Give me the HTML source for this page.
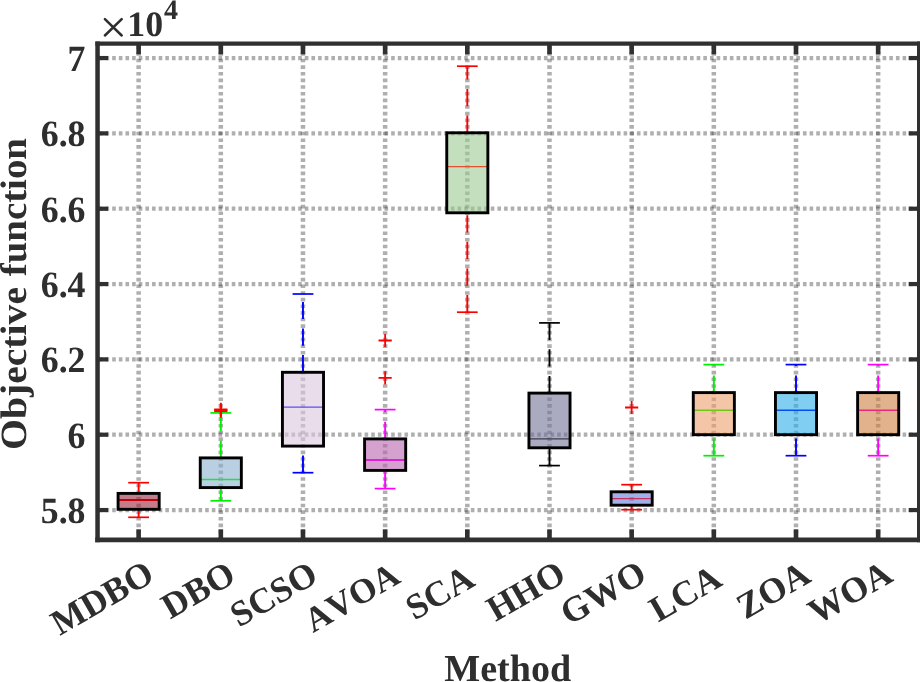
<!DOCTYPE html>
<html><head><meta charset="utf-8"><title>Boxplot</title>
<style>
html,body{margin:0;padding:0;background:#fff;}
body{width:920px;height:682px;overflow:hidden;}
svg{display:block;}
text{font-family:"Liberation Serif",serif;font-weight:bold;fill:#2e2e2e;text-rendering:geometricPrecision;font-kerning:none;}
svg{will-change:transform;}
</style></head><body>
<svg width="920" height="682" viewBox="0 0 920 682">
<rect x="0" y="0" width="920" height="682" fill="#ffffff"/>
<g stroke="#262626" stroke-opacity="0.37" stroke-width="4.2" stroke-dasharray="3.6 3.042" fill="none">
<line x1="138.63" y1="45.40" x2="138.63" y2="539.90" stroke-width="4.5"/>
<line x1="220.81" y1="45.40" x2="220.81" y2="539.90" stroke-width="4.5"/>
<line x1="302.98" y1="45.40" x2="302.98" y2="539.90" stroke-width="4.5"/>
<line x1="385.14" y1="45.40" x2="385.14" y2="539.90" stroke-width="4.5"/>
<line x1="467.31" y1="45.40" x2="467.31" y2="539.90" stroke-width="4.5"/>
<line x1="549.49" y1="45.40" x2="549.49" y2="539.90" stroke-width="4.5"/>
<line x1="631.65" y1="45.40" x2="631.65" y2="539.90" stroke-width="4.5"/>
<line x1="713.83" y1="45.40" x2="713.83" y2="539.90" stroke-width="4.5"/>
<line x1="796.00" y1="45.40" x2="796.00" y2="539.90" stroke-width="4.5"/>
<line x1="878.16" y1="45.40" x2="878.16" y2="539.90" stroke-width="4.5"/>
<line x1="98.90" y1="58.05" x2="919.25" y2="58.05"/>
<line x1="98.90" y1="133.38" x2="919.25" y2="133.38"/>
<line x1="98.90" y1="208.72" x2="919.25" y2="208.72"/>
<line x1="98.90" y1="284.05" x2="919.25" y2="284.05"/>
<line x1="98.90" y1="359.38" x2="919.25" y2="359.38"/>
<line x1="98.90" y1="434.71" x2="919.25" y2="434.71"/>
<line x1="98.90" y1="510.05" x2="919.25" y2="510.05"/>
</g>
<g>
<line x1="138.63" y1="493.40" x2="138.63" y2="482.70" stroke="#ff0000" stroke-width="1.9" stroke-dasharray="17.2 9.4"/>
<line x1="138.63" y1="517.30" x2="138.63" y2="509.30" stroke="#ff0000" stroke-width="1.9" stroke-dasharray="17.2 9.4"/>
<line x1="128.23" y1="482.70" x2="149.03" y2="482.70" stroke="#ff0000" stroke-width="1.7"/>
<line x1="128.23" y1="517.30" x2="149.03" y2="517.30" stroke="#ff0000" stroke-width="1.7"/>
<rect x="118.08" y="493.40" width="41.10" height="15.90" fill="#9b263c" fill-opacity="0.6" stroke="none"/>
<line x1="118.08" y1="500.00" x2="159.19" y2="500.00" stroke="#c4000c" stroke-width="2.2"/>
<rect x="118.08" y="493.40" width="41.10" height="15.90" fill="none" stroke="#000" stroke-width="2.9"/>
</g>
<g>
<line x1="220.81" y1="457.90" x2="220.81" y2="412.90" stroke="#00ee00" stroke-width="1.9" stroke-dasharray="17.2 9.4"/>
<line x1="220.81" y1="500.80" x2="220.81" y2="487.60" stroke="#00ee00" stroke-width="1.9" stroke-dasharray="17.2 9.4"/>
<line x1="210.41" y1="412.90" x2="231.21" y2="412.90" stroke="#00ee00" stroke-width="1.7"/>
<line x1="210.41" y1="500.80" x2="231.21" y2="500.80" stroke="#00ee00" stroke-width="1.7"/>
<rect x="200.25" y="457.90" width="41.10" height="29.70" fill="#8ab1cf" fill-opacity="0.6" stroke="none"/>
<line x1="200.25" y1="479.40" x2="241.36" y2="479.40" stroke="#22e044" stroke-width="1.5"/>
<rect x="200.25" y="457.90" width="41.10" height="29.70" fill="none" stroke="#000" stroke-width="2.9"/>
<path d="M214.21 409.30H227.41M220.81 402.70V415.90" stroke="#ff0000" stroke-width="1.8" fill="none"/>
<path d="M214.21 410.20H227.41M220.81 403.60V416.80" stroke="#ff0000" stroke-width="1.8" fill="none"/>
<path d="M214.21 411.10H227.41M220.81 404.50V417.70" stroke="#ff0000" stroke-width="1.8" fill="none"/>
</g>
<g>
<line x1="302.98" y1="372.30" x2="302.98" y2="294.00" stroke="#0000ff" stroke-width="1.9" stroke-dasharray="17.2 9.4"/>
<line x1="302.98" y1="472.70" x2="302.98" y2="446.10" stroke="#0000ff" stroke-width="1.9" stroke-dasharray="17.2 9.4"/>
<line x1="292.58" y1="294.00" x2="313.38" y2="294.00" stroke="#0000ff" stroke-width="1.7"/>
<line x1="292.58" y1="472.70" x2="313.38" y2="472.70" stroke="#0000ff" stroke-width="1.7"/>
<rect x="282.43" y="372.30" width="41.10" height="73.80" fill="#dac6de" fill-opacity="0.6" stroke="none"/>
<line x1="282.43" y1="407.20" x2="323.53" y2="407.20" stroke="#5a50f0" stroke-width="1.2"/>
<rect x="282.43" y="372.30" width="41.10" height="73.80" fill="none" stroke="#000" stroke-width="2.9"/>
</g>
<g>
<line x1="385.14" y1="438.90" x2="385.14" y2="409.60" stroke="#ff00ff" stroke-width="1.9" stroke-dasharray="17.2 9.4"/>
<line x1="385.14" y1="488.60" x2="385.14" y2="470.40" stroke="#ff00ff" stroke-width="1.9" stroke-dasharray="17.2 9.4"/>
<line x1="374.75" y1="409.60" x2="395.54" y2="409.60" stroke="#ff00ff" stroke-width="1.7"/>
<line x1="374.75" y1="488.60" x2="395.54" y2="488.60" stroke="#ff00ff" stroke-width="1.7"/>
<rect x="364.59" y="438.90" width="41.10" height="31.50" fill="#b964b1" fill-opacity="0.6" stroke="none"/>
<line x1="364.59" y1="460.00" x2="405.69" y2="460.00" stroke="#e21ed6" stroke-width="2.0"/>
<rect x="364.59" y="438.90" width="41.10" height="31.50" fill="none" stroke="#000" stroke-width="2.9"/>
<path d="M378.54 340.50H391.75M385.14 333.90V347.10" stroke="#ff0000" stroke-width="1.8" fill="none"/>
<path d="M378.54 377.90H391.75M385.14 371.30V384.50" stroke="#ff0000" stroke-width="1.8" fill="none"/>
</g>
<g>
<line x1="467.31" y1="132.80" x2="467.31" y2="66.20" stroke="#ff0000" stroke-width="1.9" stroke-dasharray="17.2 9.4"/>
<line x1="467.31" y1="312.20" x2="467.31" y2="212.80" stroke="#ff0000" stroke-width="1.9" stroke-dasharray="17.2 9.4"/>
<line x1="456.92" y1="66.20" x2="477.71" y2="66.20" stroke="#ff0000" stroke-width="1.7"/>
<line x1="456.92" y1="312.20" x2="477.71" y2="312.20" stroke="#ff0000" stroke-width="1.7"/>
<rect x="446.76" y="132.80" width="41.10" height="80.00" fill="#9dca93" fill-opacity="0.6" stroke="none"/>
<line x1="446.76" y1="166.70" x2="487.87" y2="166.70" stroke="#e2502e" stroke-width="1.2"/>
<rect x="446.76" y="132.80" width="41.10" height="80.00" fill="none" stroke="#000" stroke-width="2.9"/>
</g>
<g>
<line x1="549.49" y1="393.10" x2="549.49" y2="322.90" stroke="#000000" stroke-width="1.9" stroke-dasharray="17.2 9.4"/>
<line x1="549.49" y1="465.60" x2="549.49" y2="447.80" stroke="#000000" stroke-width="1.9" stroke-dasharray="17.2 9.4"/>
<line x1="539.09" y1="322.90" x2="559.88" y2="322.90" stroke="#000000" stroke-width="1.7"/>
<line x1="539.09" y1="465.60" x2="559.88" y2="465.60" stroke="#000000" stroke-width="1.7"/>
<rect x="528.94" y="393.10" width="41.10" height="54.70" fill="#717396" fill-opacity="0.6" stroke="none"/>
<line x1="528.94" y1="438.90" x2="570.03" y2="438.90" stroke="#3c3c4b" stroke-width="1.3"/>
<rect x="528.94" y="393.10" width="41.10" height="54.70" fill="none" stroke="#000" stroke-width="2.9"/>
</g>
<g>
<line x1="631.65" y1="491.80" x2="631.65" y2="484.70" stroke="#ff0000" stroke-width="1.9" stroke-dasharray="17.2 9.4"/>
<line x1="631.65" y1="509.70" x2="631.65" y2="505.20" stroke="#ff0000" stroke-width="1.9" stroke-dasharray="17.2 9.4"/>
<line x1="621.25" y1="484.70" x2="642.05" y2="484.70" stroke="#ff0000" stroke-width="1.7"/>
<line x1="621.25" y1="509.70" x2="642.05" y2="509.70" stroke="#ff0000" stroke-width="1.7"/>
<rect x="611.11" y="491.80" width="41.10" height="13.40" fill="#647bda" fill-opacity="0.6" stroke="none"/>
<line x1="611.11" y1="498.60" x2="652.20" y2="498.60" stroke="#c03060" stroke-width="1.4"/>
<rect x="611.11" y="491.80" width="41.10" height="13.40" fill="none" stroke="#000" stroke-width="2.9"/>
<path d="M625.05 407.50H638.25M631.65 400.90V414.10" stroke="#ff0000" stroke-width="1.8" fill="none"/>
</g>
<g>
<line x1="713.83" y1="392.60" x2="713.83" y2="364.60" stroke="#00ee00" stroke-width="1.9" stroke-dasharray="17.2 9.4"/>
<line x1="713.83" y1="455.70" x2="713.83" y2="434.70" stroke="#00ee00" stroke-width="1.9" stroke-dasharray="17.2 9.4"/>
<line x1="703.43" y1="364.60" x2="724.23" y2="364.60" stroke="#00ee00" stroke-width="1.7"/>
<line x1="703.43" y1="455.70" x2="724.23" y2="455.70" stroke="#00ee00" stroke-width="1.7"/>
<rect x="693.28" y="392.60" width="41.10" height="42.10" fill="#ee9e6c" fill-opacity="0.6" stroke="none"/>
<line x1="693.28" y1="410.30" x2="734.38" y2="410.30" stroke="#6ec814" stroke-width="1.6"/>
<rect x="693.28" y="392.60" width="41.10" height="42.10" fill="none" stroke="#000" stroke-width="2.9"/>
</g>
<g>
<line x1="796.00" y1="392.60" x2="796.00" y2="364.60" stroke="#0000ff" stroke-width="1.9" stroke-dasharray="17.2 9.4"/>
<line x1="796.00" y1="455.70" x2="796.00" y2="434.70" stroke="#0000ff" stroke-width="1.9" stroke-dasharray="17.2 9.4"/>
<line x1="785.60" y1="364.60" x2="806.39" y2="364.60" stroke="#0000ff" stroke-width="1.7"/>
<line x1="785.60" y1="455.70" x2="806.39" y2="455.70" stroke="#0000ff" stroke-width="1.7"/>
<rect x="775.45" y="392.60" width="41.10" height="42.10" fill="#2bafe9" fill-opacity="0.6" stroke="none"/>
<line x1="775.45" y1="410.30" x2="816.54" y2="410.30" stroke="#0050f0" stroke-width="1.6"/>
<rect x="775.45" y="392.60" width="41.10" height="42.10" fill="none" stroke="#000" stroke-width="2.9"/>
</g>
<g>
<line x1="878.16" y1="392.60" x2="878.16" y2="364.60" stroke="#ff00ff" stroke-width="1.9" stroke-dasharray="17.2 9.4"/>
<line x1="878.16" y1="455.70" x2="878.16" y2="434.70" stroke="#ff00ff" stroke-width="1.9" stroke-dasharray="17.2 9.4"/>
<line x1="867.76" y1="364.60" x2="888.56" y2="364.60" stroke="#ff00ff" stroke-width="1.7"/>
<line x1="867.76" y1="455.70" x2="888.56" y2="455.70" stroke="#ff00ff" stroke-width="1.7"/>
<rect x="857.62" y="392.60" width="41.10" height="42.10" fill="#cf7f3f" fill-opacity="0.6" stroke="none"/>
<line x1="857.62" y1="410.30" x2="898.71" y2="410.30" stroke="#e62882" stroke-width="1.6"/>
<rect x="857.62" y="392.60" width="41.10" height="42.10" fill="none" stroke="#000" stroke-width="2.9"/>
</g>
<g stroke="#303030" fill="none" stroke-linecap="square">
<line x1="97.55" y1="43.7" x2="919.25" y2="43.7" stroke-width="4.3"/>
<line x1="97.55" y1="539.9" x2="919.25" y2="539.9" stroke-width="4.6"/>
<line x1="97.55" y1="43.7" x2="97.55" y2="539.9" stroke-width="4.5"/>
<line x1="919.25" y1="43.7" x2="919.25" y2="539.9" stroke-width="4.5"/>
</g>
<g stroke="#303030" stroke-width="4.2" fill="none">
<line x1="138.63" y1="43.70" x2="138.63" y2="54.30" stroke-width="4.6"/>
<line x1="138.63" y1="539.90" x2="138.63" y2="529.30" stroke-width="4.6"/>
<line x1="220.81" y1="43.70" x2="220.81" y2="54.30" stroke-width="4.6"/>
<line x1="220.81" y1="539.90" x2="220.81" y2="529.30" stroke-width="4.6"/>
<line x1="302.98" y1="43.70" x2="302.98" y2="54.30" stroke-width="4.6"/>
<line x1="302.98" y1="539.90" x2="302.98" y2="529.30" stroke-width="4.6"/>
<line x1="385.14" y1="43.70" x2="385.14" y2="54.30" stroke-width="4.6"/>
<line x1="385.14" y1="539.90" x2="385.14" y2="529.30" stroke-width="4.6"/>
<line x1="467.31" y1="43.70" x2="467.31" y2="54.30" stroke-width="4.6"/>
<line x1="467.31" y1="539.90" x2="467.31" y2="529.30" stroke-width="4.6"/>
<line x1="549.49" y1="43.70" x2="549.49" y2="54.30" stroke-width="4.6"/>
<line x1="549.49" y1="539.90" x2="549.49" y2="529.30" stroke-width="4.6"/>
<line x1="631.65" y1="43.70" x2="631.65" y2="54.30" stroke-width="4.6"/>
<line x1="631.65" y1="539.90" x2="631.65" y2="529.30" stroke-width="4.6"/>
<line x1="713.83" y1="43.70" x2="713.83" y2="54.30" stroke-width="4.6"/>
<line x1="713.83" y1="539.90" x2="713.83" y2="529.30" stroke-width="4.6"/>
<line x1="796.00" y1="43.70" x2="796.00" y2="54.30" stroke-width="4.6"/>
<line x1="796.00" y1="539.90" x2="796.00" y2="529.30" stroke-width="4.6"/>
<line x1="878.16" y1="43.70" x2="878.16" y2="54.30" stroke-width="4.6"/>
<line x1="878.16" y1="539.90" x2="878.16" y2="529.30" stroke-width="4.6"/>
<line x1="97.55" y1="58.05" x2="108.15" y2="58.05"/>
<line x1="919.25" y1="58.05" x2="908.65" y2="58.05"/>
<line x1="97.55" y1="133.38" x2="108.15" y2="133.38"/>
<line x1="919.25" y1="133.38" x2="908.65" y2="133.38"/>
<line x1="97.55" y1="208.72" x2="108.15" y2="208.72"/>
<line x1="919.25" y1="208.72" x2="908.65" y2="208.72"/>
<line x1="97.55" y1="284.05" x2="108.15" y2="284.05"/>
<line x1="919.25" y1="284.05" x2="908.65" y2="284.05"/>
<line x1="97.55" y1="359.38" x2="108.15" y2="359.38"/>
<line x1="919.25" y1="359.38" x2="908.65" y2="359.38"/>
<line x1="97.55" y1="434.71" x2="108.15" y2="434.71"/>
<line x1="919.25" y1="434.71" x2="908.65" y2="434.71"/>
<line x1="97.55" y1="510.05" x2="108.15" y2="510.05"/>
<line x1="919.25" y1="510.05" x2="908.65" y2="510.05"/>
</g>
<text transform="translate(85.5 71.15) scale(1 1.035)" font-size="35.8" text-anchor="end">7</text>
<text transform="translate(85.5 146.48) scale(1 1.035)" font-size="35.8" text-anchor="end">6.8</text>
<text transform="translate(85.5 221.82) scale(1 1.035)" font-size="35.8" text-anchor="end">6.6</text>
<text transform="translate(85.5 297.15) scale(1 1.035)" font-size="35.8" text-anchor="end">6.4</text>
<text transform="translate(85.5 372.48) scale(1 1.035)" font-size="35.8" text-anchor="end">6.2</text>
<text transform="translate(85.5 447.81) scale(1 1.035)" font-size="35.8" text-anchor="end">6</text>
<text transform="translate(85.5 523.15) scale(1 1.035)" font-size="35.8" text-anchor="end">5.8</text>
<path d="M104.9 19.1L121.7 35.5M121.7 19.1L104.9 35.5" stroke="#2e2e2e" stroke-width="2.5" stroke-linecap="round" fill="none"/>
<text x="127.3" y="35.6" font-size="35.8">10</text>
<text x="164" y="19" font-size="28">4</text>
<text transform="translate(26.3 449.9) rotate(-90)" font-size="37" textLength="162.9" lengthAdjust="spacingAndGlyphs">Objective</text>
<text transform="translate(26.3 276.3) rotate(-90)" font-size="37" textLength="138.3" lengthAdjust="spacingAndGlyphs">function</text>
<text x="507.7" y="681" font-size="38.1" text-anchor="middle">Method</text>
<text transform="translate(156.13 580.20) rotate(-30)" font-size="35.8" text-anchor="end">MDBO</text>
<text transform="translate(237.50 580.70) rotate(-30)" font-size="35.8" text-anchor="end">DBO</text>
<text transform="translate(319.98 580.90) rotate(-30)" font-size="35.8" text-anchor="end">SCSO</text>
<text transform="translate(402.14 581.60) rotate(-30)" font-size="35.0" text-anchor="end">AVOA</text>
<text transform="translate(476.62 584.90) rotate(-30)" font-size="35.8" text-anchor="end">SCA</text>
<text transform="translate(567.78 580.30) rotate(-30)" font-size="35.8" text-anchor="end">HHO</text>
<text transform="translate(648.55 580.10) rotate(-30)" font-size="35.8" text-anchor="end">GWO</text>
<text transform="translate(723.83 584.60) rotate(-30)" font-size="35.8" text-anchor="end">LCA</text>
<text transform="translate(812.70 580.90) rotate(-30)" font-size="35.8" text-anchor="end">ZOA</text>
<text transform="translate(894.56 580.20) rotate(-30)" font-size="35.8" text-anchor="end">WOA</text>
</svg>
</body></html>
